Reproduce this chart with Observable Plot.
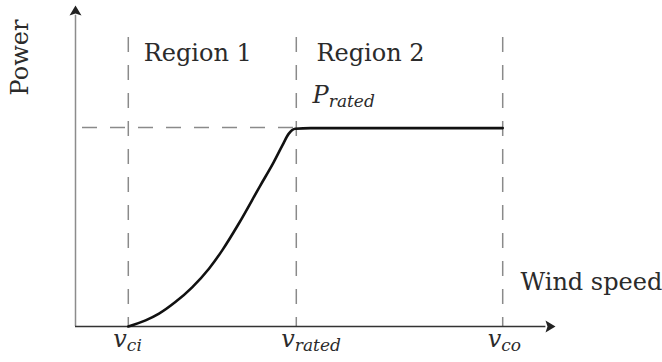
<!DOCTYPE html>
<html>
<head>
<meta charset="utf-8">
<script src="https://cdn.jsdelivr.net/npm/d3@7"></script>
<script src="https://cdn.jsdelivr.net/npm/@observablehq/plot@0.6"></script>
<style>
  html, body { margin: 0; padding: 0; background: #fff; }
  #chart svg { display: block; }
  #chart svg text { font-family: "DejaVu Serif", serif; }
</style>
</head>
<body>
<div id="chart"></div>
<script>
// ---- data (abstract units: wind speed 0..100, power 0..100) ----
const speedLabels = ["v_ci", "v_rated", "v_co"];
const speedValues = [11, 46, 89];
const ratedPower = 62;
const dashTop = 90;
const curveSpeed = [11, 14.6, 17.4, 20.8, 24.3, 27.8, 30.6, 34.0, 38.5, 41.3, 43.1, 44.4, 45.8, 49.0, 89];
const curvePower = [0, 1.9, 4.0, 7.6, 12.2, 18.0, 23.8, 32.0, 43.9, 51.2, 56.4, 60.0, 61.6, 61.8, 61.8];
const regionNames = ["Region 1", "Region 2"];
const regionSpeed = [14.2, 50.2];
const regionPower = [82.6, 82.6];
const axisTitles = ["Power", "Wind speed"];
const ratedLabel = "P_rated";

const curve = curveSpeed.map((s, i) => ({s, p: curvePower[i]}));
const speeds = speedValues.map((v, i) => ({v, label: speedLabels[i]}));
const regions = regionNames.map((n, i) => ({n, s: regionSpeed[i], p: regionPower[i]}));

const arrowShape = {
  draw(context, l) {
    context.moveTo(0, -l);
    context.lineTo(-6, 0);
    context.lineTo(0, -2);
    context.lineTo(6, 0);
    context.closePath();
  }
};

const font = "DejaVu Serif";
const textColor = "#2b2b2b";
const T = {fontFamily: font, fontSize: 24, fill: textColor, lineAnchor: "bottom"};

const plot = Plot.plot({
  width: 662,
  height: 362,
  marginLeft: 75,
  marginRight: 107,
  marginTop: 5,
  marginBottom: 36,
  x: {domain: [0, 100], axis: null},
  y: {domain: [0, 100], axis: null},
  style: {background: "#fff"},
  marks: [
    // dashed guides
    Plot.ruleX(speeds, {x: "v", y1: dashTop, y2: 0, stroke: "#8a8a8a", strokeWidth: 1.5, strokeDasharray: "15,13"}),
    Plot.ruleY([ratedPower], {x1: 0, x2: speedValues[1], stroke: "#8a8a8a", strokeWidth: 1.5, strokeDasharray: "15,13", strokeDashoffset: 21}),
    // axes
    Plot.ruleX([0], {y1: 0, y2: 97, stroke: "#8c8c8c", strokeWidth: 1.5}),
    Plot.ruleY([0], {x1: 0, x2: 98, stroke: "#333", strokeWidth: 1.5}),
    Plot.vector([0], {x: 0, y: 100, anchor: "end", length: 10, rotate: 0, shape: arrowShape, fill: "#222", stroke: "none"}),
    Plot.vector([0], {x: 100, y: 0, anchor: "end", length: 10, rotate: 90, shape: arrowShape, fill: "#222", stroke: "none"}),
    // power curve
    Plot.line(curve, {x: "s", y: "p", curve: "monotone-x", stroke: "#111", strokeWidth: 2.6}),
    // labels
    Plot.text(regions, {...T, x: "s", y: "p", text: "n", textAnchor: "start"}),
    Plot.text([axisTitles[0]], {...T, x: -9.8, y: 83.8, text: d => d, rotate: -90, textAnchor: "middle"}),
    Plot.text([axisTitles[1]], {...T, x: 92.7, y: 11.5, text: d => d, textAnchor: "start"}),
    Plot.text([ratedLabel], {...T, x: 49.4, y: 69.5, text: d => d, textAnchor: "start", fontStyle: "italic"}),
    Plot.text(speeds, {...T, x: "v", y: -6.5, text: "label", dx: -15, textAnchor: "start", fontStyle: "italic"})
  ]
});

// turn "a_b" labels into a with subscript b
d3.select(plot).selectAll("text").each(function() {
  const t = this.textContent;
  const m = /^([A-Za-z])_(.+)$/.exec(t);
  if (!m) return;
  const sel = d3.select(this);
  sel.text(m[1]);
  sel.append("tspan").attr("font-size", 17).attr("dy", 4).text(m[2]);
});

document.getElementById("chart").appendChild(plot);
</script>
</body>
</html>
